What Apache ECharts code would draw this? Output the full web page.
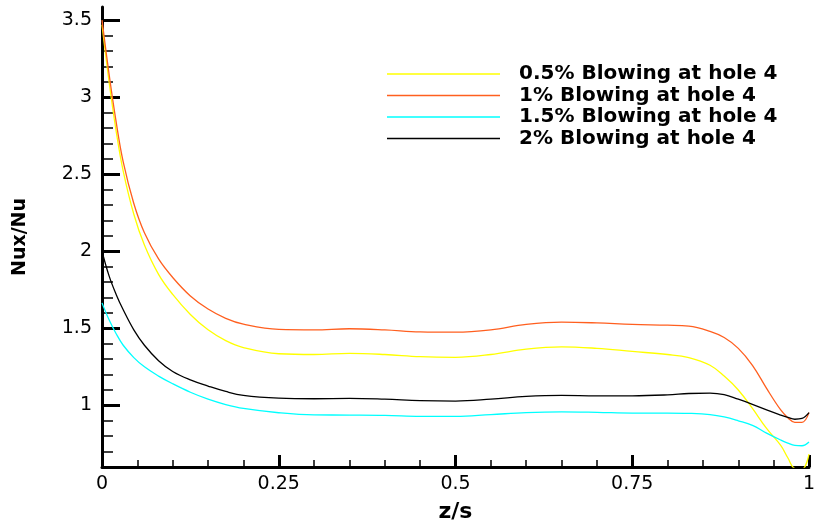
<!DOCTYPE html>
<html>
<head>
<meta charset="utf-8">
<script src="https://cdn.jsdelivr.net/npm/echarts@6/dist/echarts.min.js"></script>
<style>
  html, body { margin: 0; padding: 0; background: #fff; }
  #chart { width: 815px; height: 525px; }
</style>
</head>
<body>
<div id="chart"></div>
<script>
// z/s sample positions, shared by all series
const zs = [0, 0.01, 0.02, 0.03, 0.045, 0.06, 0.08, 0.1, 0.125, 0.15, 0.175, 0.2,
  0.25, 0.3, 0.35, 0.4, 0.45, 0.5, 0.55, 0.6, 0.65, 0.7, 0.75, 0.8, 0.83, 0.86,
  0.88, 0.9, 0.92, 0.94, 0.96, 0.97, 0.98, 0.99, 1.0];

const blow05 = [3.47, 3.10, 2.78, 2.52, 2.24, 2.04, 1.85, 1.72, 1.59, 1.49, 1.42, 1.375,
  1.335, 1.33, 1.337, 1.33, 1.316, 1.312, 1.33, 1.365, 1.38, 1.37, 1.35, 1.33, 1.31, 1.26,
  1.19, 1.10, 0.98, 0.85, 0.74, 0.66, 0.59, 0.585, 0.683];

const blow1 = [3.50, 3.15, 2.84, 2.58, 2.31, 2.12, 1.95, 1.83, 1.71, 1.625, 1.565, 1.527,
  1.493, 1.49, 1.497, 1.49, 1.477, 1.475, 1.49, 1.525, 1.54, 1.535, 1.525, 1.52, 1.514, 1.48,
  1.44, 1.37, 1.26, 1.11, 0.97, 0.92, 0.89, 0.89, 0.953];

const blow15 = [1.665, 1.555, 1.465, 1.39, 1.31, 1.25, 1.19, 1.14, 1.085, 1.04, 1.005, 0.98,
  0.952, 0.938, 0.937, 0.935, 0.929, 0.928, 0.94, 0.953, 0.958, 0.955, 0.95, 0.95, 0.948, 0.94,
  0.925, 0.90, 0.87, 0.82, 0.775, 0.755, 0.74, 0.738, 0.762];

const blow2 = [2.0, 1.84, 1.72, 1.62, 1.49, 1.39, 1.29, 1.22, 1.165, 1.125, 1.09, 1.065,
  1.047, 1.043, 1.045, 1.04, 1.031, 1.028, 1.04, 1.058, 1.065, 1.062, 1.062, 1.068, 1.077, 1.08,
  1.07, 1.04, 1.007, 0.97, 0.937, 0.922, 0.91, 0.915, 0.953];

const seriesNames = ['0.5% Blowing at hole 4', '1% Blowing at hole 4',
  '1.5% Blowing at hole 4', '2% Blowing at hole 4'];
const seriesColors = ['#ffff00', '#ff5f1f', '#00ffff', '#000000'];

const yMajorTicks = [1, 1.5, 2, 2.5, 3, 3.5];
const yMinorTicks = [0.7, 0.8, 0.9, 1.1, 1.2, 1.3, 1.4, 1.6, 1.7, 1.8, 1.9,
  2.1, 2.2, 2.3, 2.4, 2.6, 2.7, 2.8, 2.9, 3.1, 3.2, 3.3, 3.4, 3.5];

const chart = echarts.init(document.getElementById('chart'));

const allValues = [blow05, blow1, blow15, blow2];
const series = allValues.map((vals, i) => ({
  name: seriesNames[i],
  type: 'line',
  data: zs.map((z, j) => [z, vals[j]]),
  smooth: 0.4,
  symbol: 'none',
  lineStyle: { color: seriesColors[i], width: 1.3 },
  itemStyle: { color: seriesColors[i] }
}));

const labelFont = { fontFamily: 'DejaVu Sans', fontSize: 19, color: '#000' };

chart.setOption({
  animation: false,
  backgroundColor: '#fff',
  grid: { left: 102, right: 6, top: 7, bottom: 58, outerBoundsMode: 'none', containLabel: false },
  legend: {
    orient: 'vertical',
    left: 387,
    top: 64,
    padding: 0,
    icon: 'rect',
    itemWidth: 113,
    itemHeight: 1.5,
    itemGap: 1.5,
    data: seriesNames,
    textStyle: {
      fontFamily: 'DejaVu Sans',
      fontWeight: 'bold',
      fontSize: 20,
      lineHeight: 20,
      color: '#000',
      padding: [0, 0, 0, 14]
    }
  },
  xAxis: {
    type: 'value',
    min: 0,
    max: 1,
    interval: 0.25,
    name: 'z/s',
    nameLocation: 'middle',
    nameGap: 34,
    nameTextStyle: { fontFamily: 'DejaVu Sans', fontWeight: 'bold', fontSize: 22, color: '#000' },
    axisLine: { lineStyle: { color: '#000', width: 3 } },
    axisTick: { inside: true, length: 12, lineStyle: { color: '#000', width: 3 } },
    minorTick: { show: true, splitNumber: 5, length: 7, lineStyle: { color: '#000', width: 1.5 } },
    axisLabel: Object.assign({ margin: 8 }, labelFont),
    splitLine: { show: false }
  },
  yAxis: [{
    type: 'value',
    min: 0.6,
    max: 3.585,
    name: 'Nux/Nu',
    nameLocation: 'middle',
    nameRotate: 90,
    nameGap: 72,
    nameTextStyle: { fontFamily: 'DejaVu Sans', fontWeight: 'bold', fontSize: 19, color: '#000' },
    axisLine: { show: true, lineStyle: { color: '#000', width: 3 } },
    axisTick: { inside: true, length: 18, customValues: yMajorTicks, lineStyle: { color: '#000', width: 3 } },
    axisLabel: Object.assign({ margin: 10, customValues: yMajorTicks }, labelFont),
    splitLine: { show: false }
  }, {
    type: 'value',
    min: 0.6,
    max: 3.585,
    position: 'left',
    axisLine: { show: false },
    axisTick: { inside: true, length: 11, customValues: yMinorTicks, lineStyle: { color: '#000', width: 1.5 } },
    axisLabel: { show: false },
    splitLine: { show: false }
  }],
  series: series
});
</script>
</body>
</html>
